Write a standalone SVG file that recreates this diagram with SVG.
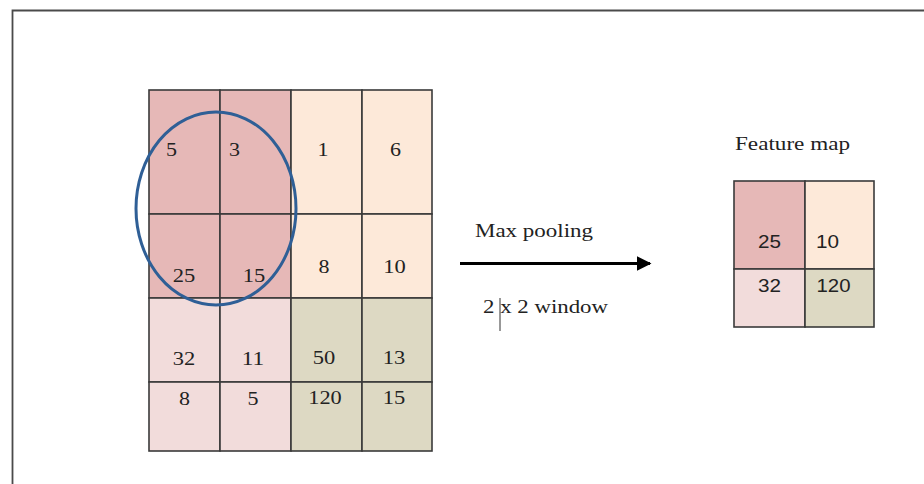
<svg xmlns="http://www.w3.org/2000/svg" width="924" height="484" viewBox="0 0 924 484">
  <defs>
    <style>
      .cell { stroke: #3a3a3a; stroke-width: 1.6; }
      .c1 { fill: #e6b8b7; }
      .c2 { fill: #fde9d9; }
      .c3 { fill: #f2dcdb; }
      .c4 { fill: #ddd9c3; }
      .num { font-family: "Liberation Serif", "Times New Roman", serif; font-size: 18px; fill: #222; text-anchor: middle; }
      .snum { font-family: "Liberation Sans", Arial, sans-serif; font-size: 18px; fill: #222; text-anchor: middle; }
      .label { font-family: "Liberation Serif", "Times New Roman", serif; font-size: 19px; fill: #222; }
    </style>
    <marker id="head" viewBox="0 0 10 10" refX="9" refY="5" markerWidth="5" markerHeight="5" markerUnits="strokeWidth" orient="auto">
      <path d="M0 0 L10 5 L0 10 Z" fill="#000"/>
    </marker>
  </defs>

  <rect width="924" height="484" fill="#fff"/>
  <!-- outer frame -->
  <path d="M12.5 484 V10.5 H924" fill="none" stroke="#4a4a4a" stroke-width="1.8"/>

  <!-- input 4x4 matrix -->
  <g id="input-grid">
    <rect class="cell c1" x="149" y="90" width="71" height="124"/>
    <rect class="cell c1" x="220" y="90" width="71" height="124"/>
    <rect class="cell c2" x="291" y="90" width="71" height="124"/>
    <rect class="cell c2" x="362" y="90" width="70" height="124"/>
    <rect class="cell c1" x="149" y="214" width="71" height="84"/>
    <rect class="cell c1" x="220" y="214" width="71" height="84"/>
    <rect class="cell c2" x="291" y="214" width="71" height="84"/>
    <rect class="cell c2" x="362" y="214" width="70" height="84"/>
    <rect class="cell c3" x="149" y="298" width="71" height="84"/>
    <rect class="cell c3" x="220" y="298" width="71" height="84"/>
    <rect class="cell c4" x="291" y="298" width="71" height="84"/>
    <rect class="cell c4" x="362" y="298" width="70" height="84"/>
    <rect class="cell c3" x="149" y="382" width="71" height="69"/>
    <rect class="cell c3" x="220" y="382" width="71" height="69"/>
    <rect class="cell c4" x="291" y="382" width="71" height="69"/>
    <rect class="cell c4" x="362" y="382" width="70" height="69"/>

    <text class="num" x="171.5" y="156" textLength="11" lengthAdjust="spacingAndGlyphs">5</text>
    <text class="num" x="234.5" y="156" textLength="11" lengthAdjust="spacingAndGlyphs">3</text>
    <text class="num" x="323" y="156" textLength="11" lengthAdjust="spacingAndGlyphs">1</text>
    <text class="num" x="395.5" y="156" textLength="11" lengthAdjust="spacingAndGlyphs">6</text>

    <text class="num" x="184" y="282" textLength="22.5" lengthAdjust="spacingAndGlyphs">25</text>
    <text class="num" x="254" y="282" textLength="22.5" lengthAdjust="spacingAndGlyphs">15</text>
    <text class="num" x="324" y="273" textLength="11" lengthAdjust="spacingAndGlyphs">8</text>
    <text class="num" x="394.5" y="273" textLength="22.5" lengthAdjust="spacingAndGlyphs">10</text>

    <text class="num" x="184" y="365" textLength="22.5" lengthAdjust="spacingAndGlyphs">32</text>
    <text class="num" x="253" y="365" textLength="22.5" lengthAdjust="spacingAndGlyphs">11</text>
    <text class="num" x="324" y="364" textLength="22.5" lengthAdjust="spacingAndGlyphs">50</text>
    <text class="num" x="394" y="364" textLength="22.5" lengthAdjust="spacingAndGlyphs">13</text>

    <text class="num" x="184.5" y="405" textLength="11" lengthAdjust="spacingAndGlyphs">8</text>
    <text class="num" x="253" y="405" textLength="11" lengthAdjust="spacingAndGlyphs">5</text>
    <text class="num" x="325" y="404" textLength="33.5" lengthAdjust="spacingAndGlyphs">120</text>
    <text class="num" x="394" y="404" textLength="22.5" lengthAdjust="spacingAndGlyphs">15</text>
  </g>

  <!-- pooling window highlight -->
  <g id="window">
    <ellipse cx="216" cy="208.5" rx="80" ry="96.5" fill="none" stroke="#2f5f96" stroke-width="3"/>
  </g>

  <!-- operation arrow and labels -->
  <g id="connectors">
    <line x1="460" y1="263.5" x2="650" y2="263.5" stroke="#000" stroke-width="3" marker-end="url(#head)"/>
  </g>
  <g id="op-labels">
    <text class="label" x="475" y="237" textLength="118" lengthAdjust="spacingAndGlyphs">Max pooling</text>
    <text class="label" x="483" y="313" textLength="125" lengthAdjust="spacingAndGlyphs">2 x 2 window</text>
    <line x1="500" y1="298" x2="500" y2="331" stroke="#333" stroke-width="1"/>
  </g>

  <!-- pooled output -->
  <g id="feature-map">
    <text class="label" x="735" y="150" textLength="115" lengthAdjust="spacingAndGlyphs">Feature map</text>
    <rect class="cell c1" x="734" y="181" width="71" height="88"/>
    <rect class="cell c2" x="805" y="181" width="69" height="88"/>
    <rect class="cell c3" x="734" y="269" width="71" height="58"/>
    <rect class="cell c4" x="805" y="269" width="69" height="58"/>
    <text class="snum" x="769.5" y="248" textLength="23" lengthAdjust="spacingAndGlyphs">25</text>
    <text class="snum" x="827.5" y="248" textLength="23" lengthAdjust="spacingAndGlyphs">10</text>
    <text class="snum" x="769.5" y="292" textLength="23" lengthAdjust="spacingAndGlyphs">32</text>
    <text class="snum" x="833.5" y="292" textLength="34" lengthAdjust="spacingAndGlyphs">120</text>
  </g>
</svg>
